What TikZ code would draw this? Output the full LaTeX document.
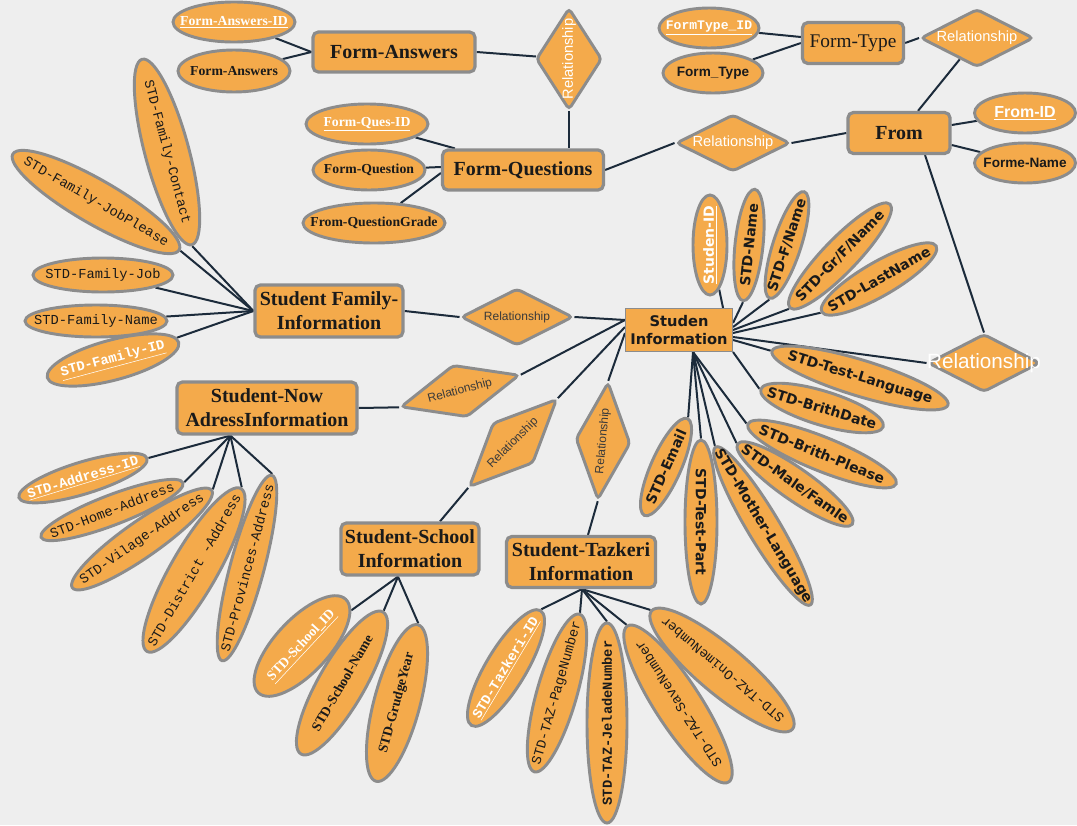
\documentclass[tikz,border=0pt]{standalone}
\usepackage{fontspec}
\setmainfont{Liberation Serif}
\newfontfamily\monof{Liberation Mono}
\newfontfamily\arialf{Liberation Sans}
\newfontfamily\dejaf{DejaVu Sans}
\usetikzlibrary{shapes.geometric,calc}
\definecolor{bgc}{HTML}{EEEEEE}
\definecolor{org}{HTML}{F4AA4B}
\definecolor{bord}{HTML}{8C8C8C}
\definecolor{lnk}{HTML}{1C2B3B}
\definecolor{txt}{HTML}{1A1A1A}
\definecolor{dtxt}{HTML}{3A3A3A}
\newcommand\zb[1]{\makebox[0pt]{#1}}
\pgfdeclarelayer{back}
\pgfsetlayers{back,main}
\begin{document}
\begin{tikzpicture}[x=0.75pt,y=-0.75pt,
 wh/.style 2 args={minimum width=#1*0.75pt,minimum height=#2*0.75pt},
 ent/.style={draw=bord,line width=2.4pt,fill=org,rounded corners=4pt,inner sep=0pt,text=txt,align=center,font=\bfseries\fontsize{15}{18}\selectfont},
 att/.style={ellipse,draw=bord,line width=2.2pt,fill=org,inner sep=0pt,text=txt},
 rel/.style={diamond,draw=bord,line width=2.2pt,fill=org,inner sep=0pt,rounded corners=3pt},
 lk/.style={draw=lnk,line width=1.5pt},
 fserif/.style={font=\bfseries\fontsize{10.3}{12}\selectfont},
 fmono/.style={font=\monof\fontsize{10.3}{12}\selectfont},
 fmonob/.style={font=\monof\bfseries\fontsize{10.3}{12}\selectfont},
 fsans/.style={font=\arialf\bfseries\fontsize{10.2}{12}\selectfont},
 fdeja/.style={font=\dejaf\bfseries\fontsize{10.5}{12}\selectfont},
 pk/.style={text=white},
 rwhite/.style={text=white,font=\arialf\fontsize{11}{13}\selectfont},
 rdark/.style={text=dtxt,font=\arialf\fontsize{9}{11}\selectfont}
]
\begin{pgfonlayer}{back}
\fill[bgc] (0,0) rectangle (1077,825);
\end{pgfonlayer}
\useasboundingbox (0,0) rectangle (1077,825);

% entities
\node[ent,wh={162}{40}] (fab) at (394,52) {Form-Answers};
\node[ent,wh={161}{40}] (fqb) at (523,170) {Form-Questions};
\node[ent,wh={101}{41},font=\fontsize{14.5}{17}\selectfont] (ftb) at (853,43) {Form-Type};
\node[ent,wh={102}{41}] (frb) at (899,133) {From};
\node[ent,wh={148}{52}] (famb) at (329,311) {Student Family-\\Information};
\node[ent,wh={180}{52}] (nowb) at (267,408) {Student-Now\\AdressInformation};
\node[ent,wh={138}{52}] (schb) at (410,549) {Student-School\\Information};
\node[ent,wh={149}{51}] (tazb) at (581,562) {Student-Tazkeri\\Information};
\node[draw=bord,line width=0.8pt,fill=org,inner sep=0pt,wh={107}{43},align=center,text=txt,font=\dejaf\bfseries\fontsize{11}{13}\selectfont] (stu) at (679,330) {Studen\\Information};

% relationships
\node[rel,rwhite,wh={102}{66},rotate=90] (r1) at (569,59) {\zb{Relationship}};
\node[rel,rwhite,wh={113}{58}] (r2) at (977,38) {\zb{Relationship}};
\node[rel,rwhite,wh={114}{57}] (r3) at (733,143) {\zb{Relationship}};
\node[rel,rwhite,wh={112}{58},font=\arialf\fontsize{15.5}{18}\selectfont] (r4) at (984,363) {\zb{Relationship}};
\node[rel,rdark,wh={112}{57}] (r5) at (517,317) {\zb{Relationship}};
\node[rel,rdark,wh={123}{54},rotate=15] (r6) at (460,391) {\zb{Relationship}};
\node[rel,rdark,wh={124}{57},rotate=45] (r7) at (513,443) {\zb{Relationship}};
\node[rel,rdark,wh={118}{55},rotate=85] (r8) at (603,441) {\zb{Relationship}};

% form attributes
\node[att,fserif,pk,wh={122}{40}] (fa1) at (234,22) {\zb{\underline{Form-Answers-ID}}};
\node[att,fserif,wh={112}{42}] (fa2) at (234,71) {\zb{Form-Answers}};
\node[att,fserif,pk,wh={122}{40}] (fq1) at (367,124) {\zb{\underline{Form-Ques-ID}}};
\node[att,fserif,wh={112}{40}] (fq2) at (369,170) {\zb{Form-Question}};
\node[att,fserif,wh={142}{40}] (fq3) at (374,223) {\zb{From-QuestionGrade}};
\node[att,fmonob,pk,wh={100}{40},font=\monof\bfseries\fontsize{9.8}{12}\selectfont] (ft1) at (709,28) {\zb{\underline{FormType\_ID}}};
\node[att,fsans,wh={100}{40}] (ft2) at (713,73) {\zb{Form\_Type}};
\node[att,fsans,pk,wh={101}{40},font=\arialf\bfseries\fontsize{12}{14}\selectfont] (fr1) at (1025,113) {\zb{\underline{From-ID}}};
\node[att,fsans,wh={101}{40}] (fr2) at (1025,163) {\zb{Forme-Name}};

% family attributes
\node[att,fmono,wh={192}{44},rotate=-75] (fc) at (167,152) {\zb{STD-Family-Contact}};
\node[att,fmono,wh={192}{44},rotate=-30] (fjp) at (96,202) {\zb{STD-Family-JobPlease}};
\node[att,fmono,wh={140}{34}] (fj) at (103,275) {\zb{STD-Family-Job}};
\node[att,fmono,wh={142}{32}] (fn) at (96,321) {\zb{STD-Family-Name}};
\node[att,fmonob,pk,wh={136}{40},rotate=15] (fid) at (113,360) {\zb{\underline{STD-Family-ID}}};

% address attributes
\node[att,fmonob,pk,wh={134}{32},rotate=17] (a1) at (83,478) {\zb{\underline{STD-Address-ID}}};
\node[att,fmono,wh={152}{30},rotate=21] (a2) at (112,510) {\zb{STD-Home-Address}};
\node[att,fmono,wh={170}{36},rotate=35] (a3) at (142,539) {\zb{STD-Vilage-Address}};
\node[att,fmono,wh={188}{46},rotate=60] (a4) at (194,570) {\zb{STD-District -Address}};
\node[att,fmono,wh={192}{34},rotate=75] (a5) at (247,568) {\zb{STD-Provinces-Address}};

% school attributes
\node[att,fserif,pk,wh={128}{54},rotate=47] (s1) at (302,646) {\zb{\underline{STD-School\_ID}}};
\node[att,fserif,wh={164}{46},rotate=60] (s2) at (342,683) {\zb{STD-School-Name}};
\node[att,fserif,wh={162}{46},rotate=75] (s3) at (397,703) {\zb{STD-GrudgeYear}};

% tazkeri attributes
\node[att,fmonob,pk,wh={134}{40},rotate=59] (t1) at (506,668) {\zb{\underline{STD-Tazkeri-ID}}};
\node[att,fmono,wh={164}{40},rotate=74] (t2) at (557,693) {\zb{STD-TAZ-PageNumber}};
\node[att,fmonob,wh={200}{40},rotate=90] (t3) at (607,723) {\zb{STD-TAZ-JeladeNumber}};
\node[att,fmono,wh={186}{46},rotate=123] (t4) at (678,704) {\zb{STD-TAZ-SaveNumber}};
\node[att,fmono,wh={184}{48},rotate=140] (t5) at (722,670) {\zb{STD-TAZ-OnimeNumber}};

% studen attributes
\node[att,fdeja,pk,wh={100}{34},rotate=90] (sid) at (710,245) {\zb{\underline{Studen-ID}}};
\node[att,fdeja,wh={112}{28},rotate=84] (sn) at (749,245) {\zb{STD-Name}};
\node[att,fdeja,wh={112}{28},rotate=72] (sf) at (787,245) {\zb{STD-F/Name}};
\node[att,fdeja,wh={144}{34},rotate=46] (sg) at (840,256) {\zb{STD-Gr/F/Name}};
\node[att,fdeja,wh={132}{34},rotate=30] (sl) at (879,279) {\zb{STD-LastName}};
\node[att,fdeja,wh={184}{36},rotate=-17] (stl) at (860,378) {\zb{STD-Test-Language}};
\node[att,fdeja,wh={128}{34},rotate=-17] (sbd) at (822,408) {\zb{STD-BrithDate}};
\node[att,fdeja,wh={160}{34},rotate=-22] (sbp) at (822,454) {\zb{STD-Brith-Please}};
\node[att,fdeja,wh={140}{32},rotate=-35] (smf) at (795,484) {\zb{STD-Male/Famle}};
\node[att,fdeja,wh={184}{32},rotate=-59] (sml) at (763,526) {\zb{STD-Mother-Language}};
\node[att,fdeja,wh={164}{32},rotate=-90] (stp) at (701,522) {\zb{STD-Test-Part}};
\node[att,fdeja,wh={106}{30},rotate=66] (sem) at (666,467) {\zb{STD-Email}};

% connection points on boxes
\coordinate (ftbL) at ($(ftb.west)+(0,-6)$);
\coordinate (frT) at ($(frb.north)+(19,0)$);
\coordinate (frB) at ($(frb.south)+(26,0)$);
\coordinate (frR1) at ($(frb.east)+(0,-8)$);
\coordinate (frR2) at ($(frb.east)+(0,12)$);
\coordinate (fqT) at ($(fqb.north west)+(14,0)$);
\coordinate (fqL1) at ($(fqb.west)+(0,-3)$);
\coordinate (fqL2) at ($(fqb.west)+(0,3)$);
\coordinate (nowA) at ($(nowb.south west)+(55,0)$);
\coordinate (schB) at ($(schb.south)+(-12,0)$);
\coordinate (schT) at ($(schb.north)+(30,0)$);
\coordinate (tazB) at ($(tazb.south)+(1,0)$);
\coordinate (tazT) at ($(tazb.north)+(7,0)$);
\coordinate (stuT) at ($(stu.north east)+(-10,0)$);
\coordinate (stuR1) at ($(stu.east)+(0,-7)$);
\coordinate (stuR2) at ($(stu.east)+(0,-3)$);
\coordinate (stuR3) at ($(stu.east)+(0,0)$);
\coordinate (stuR4) at ($(stu.east)+(0,3)$);
\coordinate (stuR5) at ($(stu.east)+(0,7)$);
\coordinate (stuR6) at ($(stu.east)+(0,10)$);
\coordinate (stuB) at ($(stu.south)+(14,0)$);
\coordinate (stuL1) at ($(stu.west)+(0,-10)$);
\coordinate (stuL2) at ($(stu.west)+(0,-3)$);
\coordinate (stuL3) at ($(stu.west)+(0,3)$);

\begin{pgfonlayer}{back}
% form part
\draw[lk] (fa1) -- (fab.west);
\draw[lk] (fa2) -- (fab.west);
\draw[lk] (fab.east) -- (r1);
\draw[lk] (r1.west) -- (r1.west |- fqb.north);
\draw[lk] (fq1) -- (fqT);
\draw[lk] (fq2) -- (fqL1);
\draw[lk] (fq3) -- (fqL2);
\draw[lk] (fqb.east) -- (r3.west);
\draw[lk] (r3.east) -- (frb.west);
\draw[lk] (frT) -- (r2);
\draw[lk] (ftb.east) -- (r2.west);
\draw[lk] (ft1) -- (ftbL);
\draw[lk] (ft2) -- (ftb.west);
\draw[lk] (frR1) -- (fr1);
\draw[lk] (frR2) -- (fr2);
\draw[lk] (frB) -- (r4.north);
% family
\draw[lk] (fc.east) -- (famb.west);
\draw[lk] (fjp.east) -- (famb.west);
\draw[lk] (fj) -- (famb.west);
\draw[lk] (fn) -- (famb.west);
\draw[lk] (fid) -- (famb.west);
\draw[lk] (famb.east) -- (r5.west);
\draw[lk] (r5.east) -- (stuL1);
% address
\draw[lk] (a1.east) -- (nowA);
\draw[lk] (a2.east) -- (nowA);
\draw[lk] (a3.east) -- (nowA);
\draw[lk] (a4.east) -- (nowA);
\draw[lk] (a5.east) -- (nowA);
\draw[lk] (nowb.east) -- (r6.west);
\draw[lk] (r6.east) -- (stuL1);
% school
\draw[lk] (s1) -- (schB);
\draw[lk] (s2.east) -- (schB);
\draw[lk] (s3.east) -- (schB);
\draw[lk] (r7.west) -- (schT);
\draw[lk] (r7.east) -- (stuL2);
% tazkeri
\draw[lk] (t1.east) -- (tazB);
\draw[lk] (t2.east) -- (tazB);
\draw[lk] (t3.east) -- (tazB);
\draw[lk] (t4.east) -- (tazB);
\draw[lk] (t5.east) -- (tazB);
\draw[lk] (r8.west) -- (tazT);
\draw[lk] (r8.east) -- (stuL3);
% studen
\draw[lk] (sid) -- (stuT);
\draw[lk] (sn.west) -- (stuR1);
\draw[lk] (sf.west) -- (stuR2);
\draw[lk] (sg.west) -- (stuR3);
\draw[lk] (sl.west) -- (stuR4);
\draw[lk] (r4.west) -- (stuR5);
\draw[lk] (stl.west) -- (stuR6);
\draw[lk] (sbd.west) -- (stu.south east);
\draw[lk] (sbp.west) -- (stuB);
\draw[lk] (smf.west) -- (stuB);
\draw[lk] (sml.west) -- (stuB);
\draw[lk] (stp.west) -- (stuB);
\draw[lk] (sem.east) -- (stuB);
\end{pgfonlayer}
\end{tikzpicture}
\end{document}
